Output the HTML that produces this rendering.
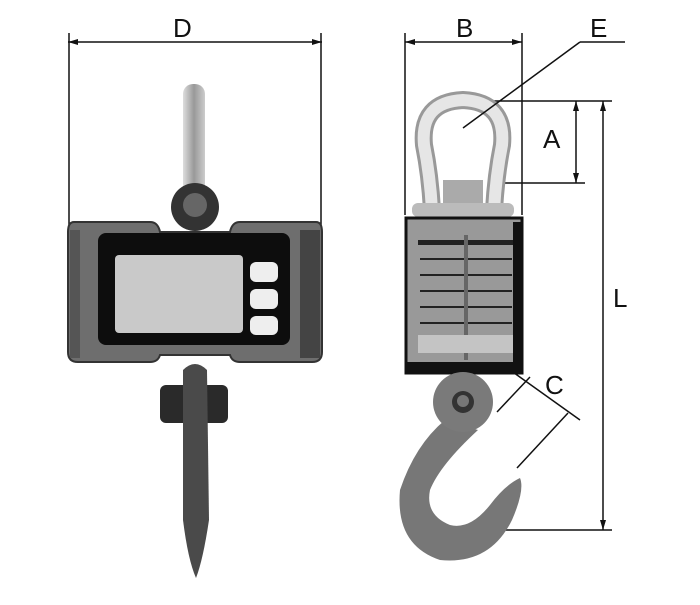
<!DOCTYPE html>
<html><head><style>html,body{margin:0;padding:0;background:#fff}svg{display:block}text{font-family:"Liberation Sans",sans-serif;font-size:26px;fill:#111}</style></head>
<body>
<svg width="700" height="605" viewBox="0 0 700 605">
<defs>
<linearGradient id="bar" x1="0" x2="1"><stop offset="0" stop-color="#ddd"/><stop offset="0.5" stop-color="#999"/><stop offset="1" stop-color="#ccc"/></linearGradient>
</defs>
<g stroke="#111" stroke-width="1.5" fill="none">
<line x1="68" y1="42" x2="322" y2="42"/>
<line x1="69" y1="33" x2="69" y2="226"/>
<line x1="321" y1="33" x2="321" y2="226"/>
</g>
<path d="M68 42l10-3v6zM322 42l-10-3v6z" fill="#111"/>
<text x="173" y="37">D</text>
<rect x="183" y="84" width="22" height="110" rx="10" fill="url(#bar)"/>
<circle cx="195" cy="207" r="24" fill="#333"/>
<circle cx="195" cy="205" r="12" fill="#666"/>
<rect x="160" y="385" width="68" height="38" rx="6" fill="#2a2a2a"/>
<path d="M183 370 Q195 358 207 370 L209 520 Q203 560 196 578 Q188 560 183 520 Z" fill="#4a4a4a"/>
<path d="M74 222 H150 Q158 222 160 232 H230 Q232 222 240 222 H316 Q322 222 322 232 V352 Q322 362 312 362 H240 Q232 362 230 355 H160 Q158 362 150 362 H78 Q68 362 68 352 V232 Q68 222 74 222Z" fill="#6e6e6e" stroke="#333" stroke-width="2"/>
<rect x="300" y="230" width="20" height="128" fill="#444"/>
<rect x="70" y="230" width="10" height="128" fill="#555"/>
<rect x="98" y="233" width="192" height="112" rx="8" fill="#0d0d0d"/>
<rect x="115" y="255" width="128" height="78" rx="4" fill="#c9c9c9"/>
<rect x="250" y="262" width="28" height="20" rx="6" fill="#eee"/>
<rect x="250" y="289" width="28" height="20" rx="6" fill="#eee"/>
<rect x="250" y="316" width="28" height="19" rx="6" fill="#eee"/>
<g stroke="#111" stroke-width="1.5" fill="none">
<line x1="405" y1="42" x2="522" y2="42"/>
<line x1="405" y1="33" x2="405" y2="215"/>
<line x1="522" y1="33" x2="522" y2="215"/>
<line x1="490" y1="101" x2="612" y2="101"/>
<line x1="490" y1="183" x2="585" y2="183"/>
<line x1="576" y1="101" x2="576" y2="183"/>
<line x1="603" y1="101" x2="603" y2="530"/>
<line x1="470" y1="530" x2="612" y2="530"/>
<line x1="510" y1="370" x2="580" y2="420"/>
<line x1="497" y1="412" x2="530" y2="377"/>
<line x1="517" y1="468" x2="568" y2="413"/>
</g>
<path d="M405 42l10-3v6zM522 42l-10-3v6zM576 101l-3 10h6zM576 183l-3-10h6zM603 101l-3 10h6zM603 530l-3-10h6z" fill="#111"/>
<text x="456" y="37">B</text><text x="590" y="37">E</text><text x="543" y="148">A</text><text x="613" y="307">L</text><text x="545" y="394">C</text>
<path d="M432 210 Q430 175 424 145 Q420 102 463 100 Q506 102 502 145 Q496 175 494 210" fill="none" stroke="#999" stroke-width="18"/>
<path d="M432 210 Q430 175 424 145 Q420 102 463 100 Q506 102 502 145 Q496 175 494 210" fill="none" stroke="#e6e6e6" stroke-width="12"/>
<rect x="443" y="180" width="40" height="38" fill="#aaa"/>
<rect x="412" y="203" width="102" height="14" rx="6" fill="#bbb"/>
<g stroke="#111" stroke-width="1.5"><line x1="463" y1="128" x2="580" y2="42"/><line x1="580" y1="42" x2="625" y2="42"/></g>
<rect x="406" y="218" width="116" height="155" fill="#999" stroke="#111" stroke-width="3"/>
<rect x="513" y="222" width="8" height="150" fill="#111"/>
<rect x="406" y="362" width="116" height="11" fill="#111"/>
<g fill="#222"><rect x="418" y="240" width="95" height="5"/><rect x="420" y="258" width="92" height="2"/><rect x="420" y="274" width="92" height="2"/><rect x="420" y="290" width="92" height="2"/><rect x="420" y="306" width="92" height="2"/><rect x="420" y="322" width="92" height="2"/></g>
<rect x="464" y="235" width="4" height="125" fill="#666"/>
<rect x="418" y="335" width="95" height="18" fill="#c4c4c4"/>
<path d="M445 420 Q415 445 400 490 Q395 545 440 560 Q490 565 512 520 Q525 490 520 478 Q505 485 490 505 Q470 530 450 525 Q425 515 430 490 Q440 465 478 430 Z" fill="#777"/>
<circle cx="463" cy="402" r="30" fill="#7a7a7a"/>
<circle cx="463" cy="402" r="11" fill="#333"/><circle cx="463" cy="401" r="6" fill="#777"/>
</svg>
</body></html>
